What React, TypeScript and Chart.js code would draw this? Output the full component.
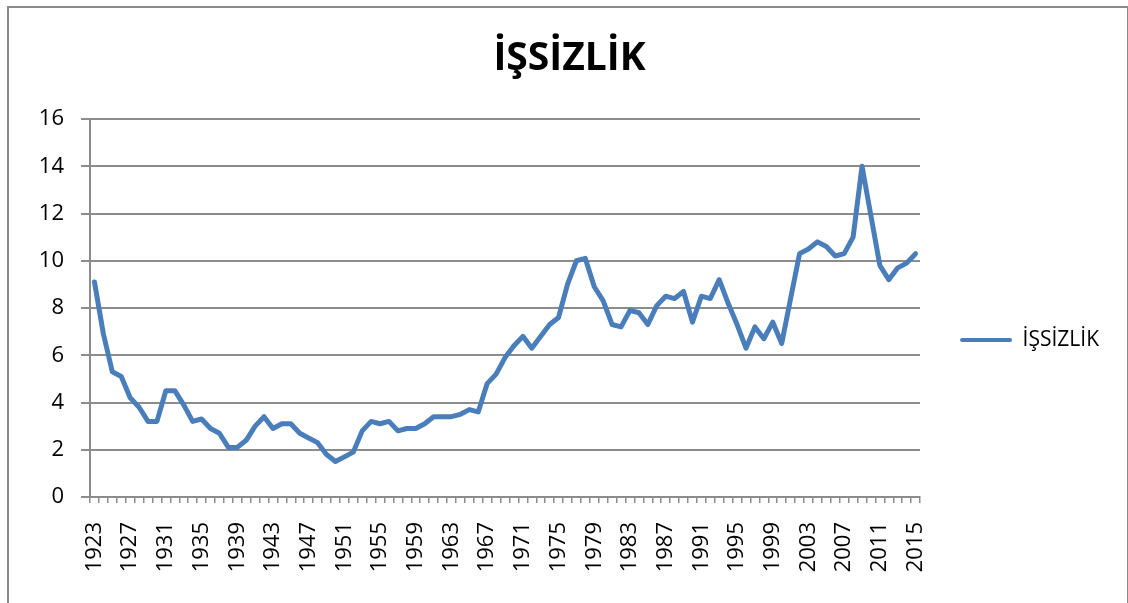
import React, { useEffect, useRef } from 'react';
import { Chart, registerables } from 'chart.js';

Chart.register(...registerables);

const TITLE = 'İŞSİZLİK';
const SERIES_LABEL = 'İŞSİZLİK';

const years = [
  '1923', '1924', '1925', '1926', '1927', '1928', '1929', '1930', '1931', '1932',
  '1933', '1934', '1935', '1936', '1937', '1938', '1939', '1940', '1941', '1942',
  '1943', '1944', '1945', '1946', '1947', '1948', '1949', '1950', '1951', '1952',
  '1953', '1954', '1955', '1956', '1957', '1958', '1959', '1960', '1961', '1962',
  '1963', '1964', '1965', '1966', '1967', '1968', '1969', '1970', '1971', '1972',
  '1973', '1974', '1975', '1976', '1977', '1978', '1979', '1980', '1981', '1982',
  '1983', '1984', '1985', '1986', '1987', '1988', '1989', '1990', '1991', '1992',
  '1993', '1994', '1995', '1996', '1997', '1998', '1999', '2000', '2001', '2002',
  '2003', '2004', '2005', '2006', '2007', '2008', '2009', '2010', '2011', '2012',
  '2013', '2014', '2015',
];

const unemployment = [
  9.1, 6.9, 5.3, 5.1, 4.2, 3.8, 3.2, 3.2, 4.5, 4.5,
  3.9, 3.2, 3.3, 2.9, 2.7, 2.1, 2.1, 2.4, 3.0, 3.4,
  2.9, 3.1, 3.1, 2.7, 2.5, 2.3, 1.8, 1.5, 1.7, 1.9,
  2.8, 3.2, 3.1, 3.2, 2.8, 2.9, 2.9, 3.1, 3.4, 3.4,
  3.4, 3.5, 3.7, 3.6, 4.8, 5.2, 5.9, 6.4, 6.8, 6.3,
  6.8, 7.3, 7.6, 9.0, 10.0, 10.1, 8.9, 8.3, 7.3, 7.2,
  7.9, 7.8, 7.3, 8.1, 8.5, 8.4, 8.7, 7.4, 8.5, 8.4,
  9.2, 8.2, 7.3, 6.3, 7.2, 6.7, 7.4, 6.5, 8.4, 10.3,
  10.5, 10.8, 10.6, 10.2, 10.3, 11.0, 14.0, 11.9, 9.8, 9.2,
  9.7, 9.9, 10.3,
];

const yTickValues = [0, 2, 4, 6, 8, 10, 12, 14, 16];
const X_LABEL_STEP = 4;

const LINE_COLOR = '#4a7ebb';
const GRID_COLOR = '#8c8c8c';
const FONT = "'Open Sans', sans-serif";

export default function App() {
  const canvasRef = useRef<HTMLCanvasElement | null>(null);

  useEffect(() => {
    const canvas = canvasRef.current;
    if (!canvas) return;
    const chart = new Chart(canvas, {
      type: 'line',
      data: {
        labels: years,
        datasets: [
          {
            label: SERIES_LABEL,
            data: unemployment,
            borderColor: LINE_COLOR,
            backgroundColor: LINE_COLOR,
            borderWidth: 5,
            pointRadius: 0,
            pointHoverRadius: 0,
            tension: 0,
            borderJoinStyle: 'round',
            borderCapStyle: 'round',
            fill: false,
          },
        ],
      },
      options: {
        responsive: false,
        animation: false,
        devicePixelRatio: 1,
        layout: { padding: { left: 30, right: 19, top: 0, bottom: 0 } },
        plugins: {
          title: {
            display: true,
            text: TITLE,
            color: '#000',
            font: { family: FONT, size: 39, weight: 'bold', lineHeight: 1.2 },
            padding: { top: 35, bottom: 37.2 },
          },
          legend: {
            display: true,
            position: 'right',
            align: 'center',
            title: {
              display: true,
              text: '',
              font: { size: 1, lineHeight: 1 },
              padding: { top: 76, bottom: 0 },
            },
            labels: {
              color: '#000',
              font: { family: FONT, size: 21 },
              boxWidth: 52,
              boxHeight: 4,
              padding: 40,
              useBorderRadius: true,
              borderRadius: 2,
              generateLabels: (ch: any) =>
                Chart.defaults.plugins.legend.labels
                  .generateLabels(ch)
                  .map((l: any) => ({
                    ...l,
                    fillStyle: LINE_COLOR,
                    strokeStyle: LINE_COLOR,
                    lineWidth: 0,
                    borderRadius: 2,
                  })),
            },
          },
          tooltip: { enabled: false },
        },
        scales: {
          x: {
            type: 'category',
            offset: true,
            afterFit: (s: any) => {
              s.height = 106;
            },
            grid: {
              display: true,
              offset: true,
              drawOnChartArea: false,
              drawTicks: true,
              tickLength: 6,
              color: GRID_COLOR,
              lineWidth: 1.5,
            },
            border: { display: true, color: GRID_COLOR, width: 2 },
            ticks: {
              autoSkip: false,
              minRotation: 90,
              maxRotation: 90,
              padding: 19,
              color: '#000',
              font: { family: FONT, size: 22 },
              callback: (_v: any, idx: number) =>
                idx % X_LABEL_STEP === 0 ? years[idx] : '',
            },
          },
          y: {
            type: 'linear',
            min: 0,
            max: 16,
            afterFit: (s: any) => {
              s.width = 60;
            },
            afterBuildTicks: (s: any) => {
              s.ticks = yTickValues.map((v) => ({ value: v }));
            },
            grid: {
              display: true,
              drawOnChartArea: true,
              drawTicks: true,
              tickLength: 9,
              color: GRID_COLOR,
              lineWidth: 2,
            },
            border: { display: true, color: GRID_COLOR, width: 2 },
            ticks: {
              padding: 17,
              color: '#000',
              font: { family: FONT, size: 22 },
              callback: (v: any) => String(v),
            },
          },
        },
      },
    });
    return () => chart.destroy();
  }, []);

  return (
    <div style={{ position: 'fixed', left: 0, top: 0, width: 1128, height: 603, background: '#fff' }}>
      <canvas
        ref={canvasRef}
        width={1128}
        height={603}
        style={{ position: 'absolute', left: 0, top: 0, width: 1128, height: 603 }}
      />
      <div
        style={{
          position: 'absolute',
          left: 7,
          top: 6,
          width: 1122,
          height: 640,
          border: '2px solid #8a8a8a',
          boxSizing: 'border-box',
          pointerEvents: 'none',
        }}
      />
    </div>
  );
}
